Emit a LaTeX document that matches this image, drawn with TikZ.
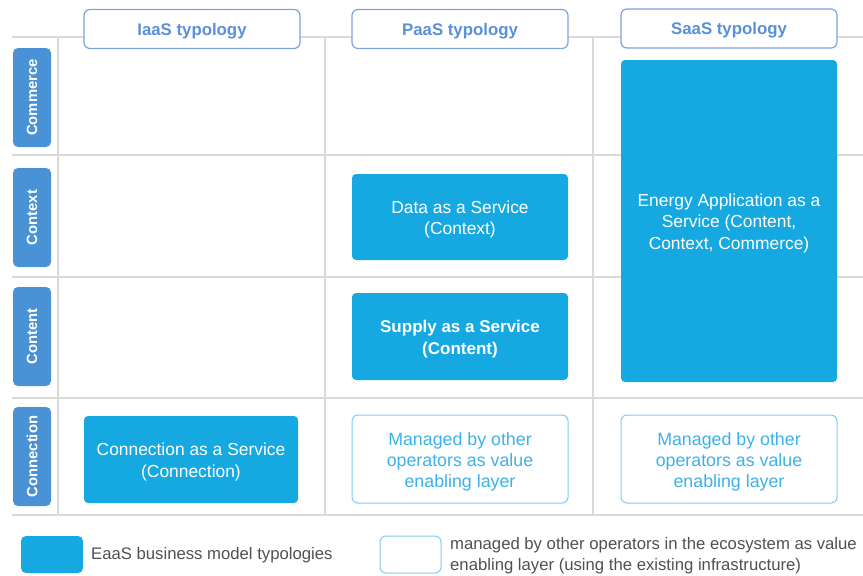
\documentclass[tikz,border=0pt]{standalone}
\usepackage{fontspec}
\setmainfont{Liberation Sans}
\definecolor{eaas}{HTML}{16A9E1}
\definecolor{rowlab}{HTML}{4A92D6}
\definecolor{headb}{HTML}{7DA2E2}
\definecolor{headt}{HTML}{5A90D8}
\definecolor{mgrb}{HTML}{7FCDF0}
\definecolor{mgrt}{HTML}{3DB2E8}
\definecolor{gridc}{HTML}{DADADA}
\definecolor{legt}{HTML}{505050}
\tikzset{
  txt/.style={font=\fontsize{17.4}{21.5}\selectfont, align=center, inner sep=0pt},
  bluebox/.style={rectangle, rounded corners=4pt, fill=eaas, minimum width=216pt, inner sep=0pt},
  bluetxt/.style={txt, text=white},
  mgrbox/.style={rectangle, rounded corners=6pt, draw=mgrb, line width=1pt, fill=white, minimum width=216pt, minimum height=88pt, inner sep=0pt},
  mgrtxt/.style={txt, text=mgrt, font=\fontsize{17.8}{21}\selectfont},
  headbox/.style={txt, rectangle, rounded corners=6pt, draw=headb, line width=1.2pt, fill=white, text=headt, font=\fontsize{16.8}{21}\selectfont\bfseries, minimum width=216pt, minimum height=39pt, text depth=0pt},
  rowbox/.style={txt, rectangle, rounded corners=5pt, fill=rowlab, text=white, font=\fontsize{14.8}{17}\selectfont\bfseries, rotate=90, minimum width=99pt, minimum height=38pt},
  legtext/.style={txt, anchor=west, align=left, text=legt, font=\fontsize{16.7}{21}\selectfont},
  gridline/.style={draw=gridc, line width=1.2pt}
}
\begin{document}
\begin{tikzpicture}[x=1pt,y=-1pt]
\useasboundingbox (0,0) rectangle (863,576);
% grid
\foreach \yy in {37,155,277,398,515} \draw[gridline] (12,\yy) -- (863,\yy);
\foreach \xx in {58,325,593} \draw[gridline] (\xx,37) -- (\xx,515);
% headers
\node[headbox] (iaas) at (192,29) {IaaS typology};
\node[headbox] (paas) at (460,29) {PaaS typology};
\node[headbox] (saas) at (729,28.5) {SaaS typology};
% row labels
\node[rowbox] (commerce) at (32,97.5) {Commerce};
\node[rowbox] (context) at (32,217.5) {Context};
\node[rowbox] (content) at (32,336.5) {Content};
\node[rowbox] (connection) at (32,456.5) {Connection};
% cells
\node[bluebox, minimum height=322pt] (energy) at (729,221) {};
\node[bluetxt] (energyt) at ([yshift=-2pt]energy.center) {Energy Application as a\\Service (Content,\\Context, Commerce)};
\node[bluebox, minimum height=86pt] (data) at (460,217) {};
\node[bluetxt] (datat) at ([yshift=-2.5pt]data.center) {Data as a Service\\(Context)};
\node[bluebox, minimum height=87pt] (supply) at (460,336.5) {};
\node[bluetxt, font=\fontsize{17}{21.5}\selectfont\bfseries] (supplyt) at ([yshift=-2.5pt]supply.center) {Supply as a Service\\(Content)};
\node[bluebox, minimum width=214pt, minimum height=87pt] (conn) at (191,459.5) {};
\node[bluetxt] (connt) at ([yshift=-2.5pt]conn.center) {Connection as a Service\\(Connection)};
\node[mgrbox] (mgr1) at (460,459) {};
\node[mgrtxt] (mgr1t) at ([yshift=-2.5pt]mgr1.center) {Managed by other\\operators as value\\enabling layer};
\node[mgrbox] (mgr2) at (729,459) {};
\node[mgrtxt] (mgr2t) at ([yshift=-2.5pt]mgr2.center) {Managed by other\\operators as value\\enabling layer};
% legend
\node[rectangle, rounded corners=5pt, fill=eaas, minimum width=62pt, minimum height=37pt] (legblue) at (52,554.5) {};
\node[legtext] (legbluet) at (91,555) {EaaS business model typologies};
\node[rectangle, rounded corners=6pt, draw=mgrb, line width=1pt, fill=white, minimum width=61pt, minimum height=37pt] (legwhite) at (410.5,554.5) {};
\node[legtext] (legwhitet) at (450,556) {managed by other operators in the ecosystem as value\\enabling layer (using the existing infrastructure)};
\end{tikzpicture}
\end{document}
